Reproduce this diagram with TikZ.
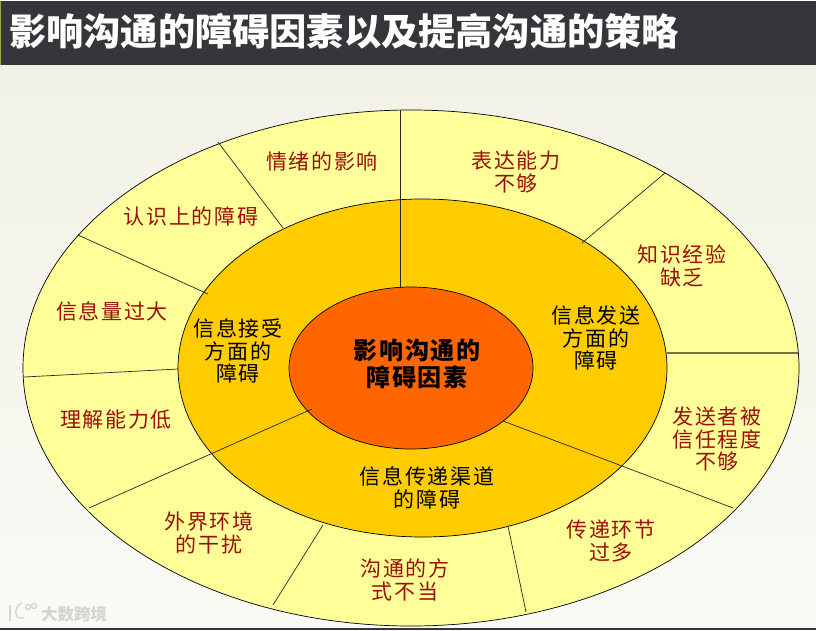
\documentclass[tikz,border=0pt]{standalone}
\usepackage{xcolor}
\usepackage{fontspec}
\setmainfont{Liberation Sans}
\newfontfamily\cjk[LetterSpace=8]{Noto Sans CJK SC}
\newfontfamily\cjktitle{Noto Sans CJK SC}
\usetikzlibrary{shapes.geometric}
\definecolor{barcol}{HTML}{37353A}
\definecolor{stripecol}{HTML}{8DB040}
\definecolor{ringout}{HTML}{FFFF99}
\definecolor{ringmid}{HTML}{FFCC00}
\definecolor{ringin}{HTML}{FF6600}
\definecolor{factorcol}{HTML}{9A1008}
\definecolor{bgtop}{HTML}{F1F1E7}
\definecolor{bgbottom}{HTML}{FAFAF5}

\begin{document}
\begin{tikzpicture}[
        x=1pt, y=-1pt,
        ring/.style={ellipse, draw=black, line width=0.7pt, inner sep=0pt},
        divider/.style={draw=black!85, line width=0.7pt},
        factor/.style={align=center, text=factorcol, inner sep=0pt,
            font=\cjk\fontsize{21}{22.8}\selectfont},
        barrier/.style={align=center, text=black, inner sep=0pt,
            font=\cjk\fontsize{21}{22.8}\selectfont},
        mainlabel/.style={align=center, text=black, inner sep=0pt,
            font=\cjk\bfseries\fontsize{24}{27}\selectfont},
        logomark/.style={draw=black!17, line width=1.4pt}
    ]
    \useasboundingbox (0,0) rectangle (816,630);

    % fundo e barra do titulo
    \shade[top color=bgtop, bottom color=bgbottom] (0,65) rectangle (816,628);
    \fill[barcol] (0,1) rectangle (816,65);
    \fill[stripecol] (0,1) rectangle (1,65);
    \fill[barcol] (0,628) rectangle (816,630);
    \node[text=white, inner sep=0pt, anchor=west, font=\cjktitle\bfseries\fontsize{37.2}{40}\selectfont] (titulo) at (9,31) {影响沟通的障碍因素以及提高沟通的策略};

    % aneis
    \node[ring, fill=ringout, minimum width=776pt, minimum height=516pt] (outer) at (411,368) {};
    \node[ring, fill=ringmid, minimum width=489pt, minimum height=338pt] (middle) at (422.5,368) {};
    \node[ring, fill=ringin, minimum width=244pt, minimum height=162pt] (inner) at (411,368) {};

    % extremos das divisorias
    \coordinate (o1) at (400,110);   \coordinate (i1) at (400,288);
    \coordinate (o2) at (218,142);   \coordinate (m2) at (283,228);
    \coordinate (o3) at (78,235);    \coordinate (m3) at (208,294);
    \coordinate (o4) at (24,377);    \coordinate (m4) at (178,369);
    \coordinate (o5) at (89,508);    \coordinate (i5) at (312,409);
    \coordinate (o6) at (273,605);   \coordinate (m6) at (323,525);
    \coordinate (o7) at (526,612);   \coordinate (m7) at (508,526);
    \coordinate (o8) at (733,508);   \coordinate (i8) at (503,421);
    \coordinate (o9) at (798,353);   \coordinate (m9) at (666,353);
    \coordinate (o10) at (665,173);  \coordinate (m10) at (582,243);

    \draw[divider] (o1) -- (i1);
    \draw[divider] (o2) -- (m2);
    \draw[divider] (o3) -- (m3);
    \draw[divider] (o4) -- (m4);
    \draw[divider] (o5) -- (i5);
    \draw[divider] (o6) -- (m6);
    \draw[divider] (o7) -- (m7);
    \draw[divider] (o8) -- (i8);
    \draw[divider, draw=black!55!ringout, line width=1.3pt] (o9) -- (m9);
    \draw[divider] (o10) -- (m10);

    % anel externo
    \node[factor] (emocao) at (322,161) {情绪的影响};
    \node[factor] (cognicao) at (191,216) {认识上的障碍};
    \node[factor] (volume) at (112,311) {信息量过大};
    \node[factor] (compreensao) at (116,420) {理解能力低};
    \node[factor] (ambiente) at (209,533) {外界环境\\的干扰};
    \node[factor] (modo) at (405,580) {沟通的方\\式不当};
    \node[factor] (elos) at (611,541) {传递环节\\过多};
    \node[factor] (confianca) at (717,439) {发送者被\\信任程度\\不够};
    \node[factor] (saber) at (682,266) {知识经验\\缺乏};
    \node[factor] (expressao) at (516,172) {表达能力\\不够};

    % anel do meio
    \node[barrier] (recepcao) at (238,351) {信息接受\\方面的\\障碍};
    \node[barrier] (envio) at (596,338) {信息发送\\方面的\\障碍};
    \node[barrier] (canal) at (427,488) {信息传递渠道\\的障碍};

    % centro
    \node[mainlabel] (centro) at (417,364) {影响沟通的\\障碍因素};

    % marca d'agua
    \node[text=black!17, inner sep=0pt, anchor=west, font=\cjktitle\bfseries\fontsize{16.5}{18}\selectfont] (marca) at (41,614) {大数跨境};
    \draw[logomark] (28,607) circle (2.5);
    \draw[logomark] (34,606) circle (2.5);
    \draw[logomark] (10,605) -- (10,621);
    \draw[logomark] (22,603) .. controls (13,606) and (14,621) .. (24,618);
\end{tikzpicture}
\end{document}
